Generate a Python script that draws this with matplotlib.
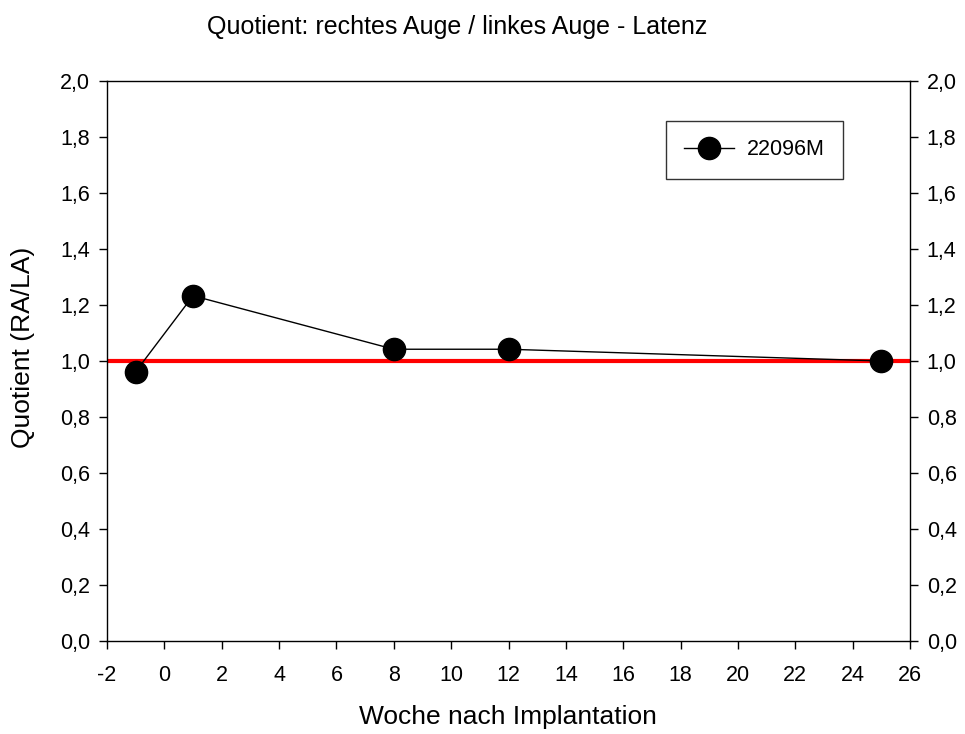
import matplotlib
matplotlib.use("Agg")
import matplotlib.pyplot as plt
from matplotlib.ticker import FuncFormatter

plt.rcParams['font.family'] = ['Liberation Sans', 'DejaVu Sans']
plt.rcParams['axes.unicode_minus'] = False

# Weeks after implantation and right/left eye latency quotient
weeks = [-1, 1, 8, 12, 25]
quotient = [0.962, 1.233, 1.042, 1.042, 1.0]
series_label = "22096M"
reference_level = 1.0

x_ticks = list(range(-2, 27, 2))
y_ticks = [0.0, 0.2, 0.4, 0.6, 0.8, 1.0, 1.2, 1.4, 1.6, 1.8, 2.0]

fig = plt.figure(figsize=(9.65, 7.34), dpi=100)
ax = fig.add_axes([107 / 965, 1 - 641 / 734, 803 / 965, 560 / 734])

ax.axhline(reference_level, color='#ff0000', lw=3.0, zorder=2)
ax.plot(weeks, quotient, color='black', lw=1.0, marker='o', markersize=16,
        markerfacecolor='black', markeredgecolor='black', label=series_label,
        zorder=3, clip_on=False)

ax.set_xlim(-2, 26)
ax.set_ylim(0, 2)
ax.set_xticks(x_ticks)
ax.set_yticks(y_ticks)

comma = FuncFormatter(lambda v, p: f"{v:.1f}".replace('.', ','))
ax.yaxis.set_major_formatter(comma)
ax.tick_params(axis='both', direction='out', length=6, width=1.0,
               labelsize=15.5, pad=6)
ax.tick_params(axis='x', pad=11)
ax.tick_params(axis='y', which='both', left=True, right=True,
               labelleft=True, labelright=True)
for s in ax.spines.values():
    s.set_linewidth(1.0)

fig.text(508 / 965, 1 - 717 / 734, "Woche nach Implantation",
         ha='center', va='center', fontsize=19)
fig.text(23 / 965, 1 - 347 / 734, "Quotient (RA/LA)", rotation=90,
         ha='center', va='center', fontsize=19)
fig.text(457 / 965, 1 - 27 / 734, "Quotient: rechtes Auge / linkes Auge - Latenz",
         ha='center', va='center', fontsize=18)

leg = ax.legend(loc='upper left', bbox_to_anchor=((666 - 107) / 803, (641 - 121) / 560),
                fontsize=15.5, frameon=True, fancybox=False, borderpad=0.85,
                handlelength=2.3, handletextpad=0.6, borderaxespad=0)
leg.get_frame().set_edgecolor('black')
leg.get_frame().set_linewidth(1.0)

fig.savefig("out.png", dpi=100)
